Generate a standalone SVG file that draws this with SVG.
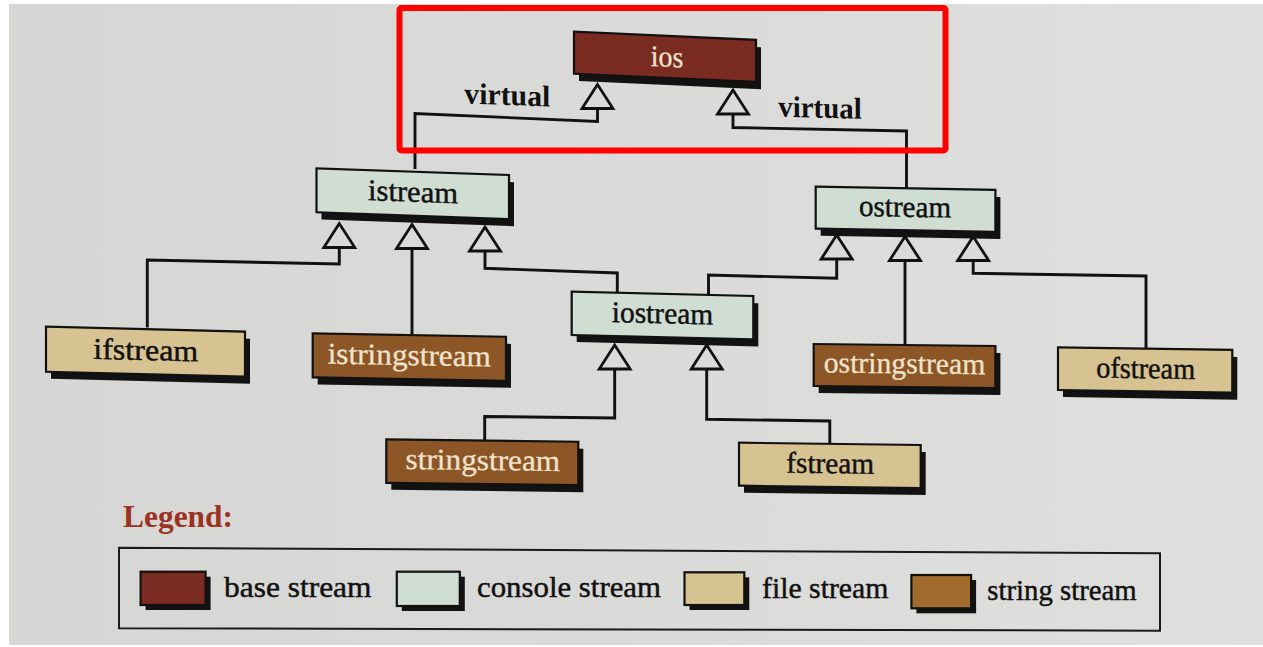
<svg xmlns="http://www.w3.org/2000/svg" width="1263" height="647" viewBox="0 0 1263 647">
  <defs>
    <linearGradient id="paper" x1="0" y1="0" x2="1" y2="0">
      <stop offset="0" stop-color="#d6d6d4"/>
      <stop offset="0.5" stop-color="#dadad8"/>
      <stop offset="1" stop-color="#dfdfdd"/>
    </linearGradient>
    <!-- hollow inheritance triangle, apex at the end of each connector -->
    <marker id="inherit" markerUnits="userSpaceOnUse" markerWidth="60" markerHeight="60"
            viewBox="-30 -30 60 60" refX="0" refY="0" orient="auto" overflow="visible">
      <path d="M0,0 L-24,-15.5 L-24,15.5 Z" fill="#dadad8" stroke="#111" stroke-width="2.8" stroke-linejoin="miter"/>
    </marker>
    <style>
      .lbl  { font-family: "Liberation Serif", "Times New Roman", serif; font-size: 30px; stroke-width: 0.45px; }
      .dark { fill: #111; stroke: #111; }
      .lite { fill: #f0e3cb; stroke: #f0e3cb; stroke-width: 0.3px; }
      .box  { stroke: #111; stroke-width: 2.2; }
      .shd  { fill: #121212; }
      .base    { fill: #7a2b22; }
      .console { fill: #cfddd3; }
      .file    { fill: #d7c291; }
      .string  { fill: #8c5626; }
      .wire { fill: none; stroke: #111; stroke-width: 2.9; stroke-linejoin: miter; marker-end: url(#inherit); }
      .virt { font-family: "Liberation Serif", "Times New Roman", serif; font-size: 30px; font-weight: bold; fill: #111; }
    </style>
  </defs>

  <!-- page -->
  <rect x="0" y="0" width="1263" height="647" fill="#ffffff"/>
  <rect x="9" y="4" width="1254" height="641" fill="url(#paper)"/>

  <!-- connectors -->
  <g id="connectors">
    <path class="wire" d="M415,169 L415,113.5 L597.5,121.5 L597.5,84.5"/>
    <path class="wire" d="M906.5,188 L906.5,131 L733,127.5 L733,90"/>
    <path class="wire" d="M147.3,327.5 L147.3,260 L339.3,264 L339.3,223.5"/>
    <path class="wire" d="M412,334.5 L412,224.5"/>
    <path class="wire" d="M617.3,293 L617.3,273 L485,268.3 L485,227"/>
    <path class="wire" d="M708.5,294 L708.5,275 L836.7,278.3 L836.7,235"/>
    <path class="wire" d="M905,344.5 L905,236.5"/>
    <path class="wire" d="M1146,348 L1146,276 L973.2,273.3 L973.2,236.5"/>
    <path class="wire" d="M484.7,440 L484.7,416.5 L614.7,418 L614.7,345"/>
    <path class="wire" d="M829.8,443.5 L829.8,421 L706.7,419.3 L706.7,345"/>
  </g>

  <text class="virt" transform="translate(464.3,103.5) skewY(2)" x="0" y="0" textLength="86" lengthAdjust="spacingAndGlyphs">virtual</text>
  <text class="virt" transform="translate(778.3,116.6) skewY(1.5)" x="0" y="0" textLength="83.4" lengthAdjust="spacingAndGlyphs">virtual</text>

  <!-- class boxes -->
  <g id="ios" transform="translate(574,31.7) skewY(2.58)">
    <rect class="shd" x="5" y="7" width="182" height="42"/>
    <rect class="box base" x="0" y="0" width="182" height="42"/>
    <text class="lbl lite" x="93" y="30.8" text-anchor="middle" textLength="32.6" lengthAdjust="spacingAndGlyphs">ios</text>
  </g>

  <g id="istream" transform="translate(316.5,168.3) skewY(2.0)">
    <rect class="shd" x="5" y="7" width="192.5" height="44"/>
    <rect class="box console" x="0" y="0" width="192.5" height="44"/>
    <text class="lbl dark" x="96.5" y="30" text-anchor="middle" textLength="90" lengthAdjust="spacingAndGlyphs">istream</text>
  </g>

  <g id="ostream" transform="translate(815.7,186.7) skewY(1.03)">
    <rect class="shd" x="5" y="7" width="179.7" height="42"/>
    <rect class="box console" x="0" y="0" width="179.7" height="42"/>
    <text class="lbl dark" x="89.3" y="28.4" text-anchor="middle" textLength="92" lengthAdjust="spacingAndGlyphs">ostream</text>
  </g>

  <g id="iostream" transform="translate(571.7,291.7) skewY(1.37)">
    <rect class="shd" x="5" y="7" width="181.6" height="43.3"/>
    <rect class="box console" x="0" y="0" width="181.6" height="43.3"/>
    <text class="lbl dark" x="90.8" y="29.4" text-anchor="middle" textLength="101.6" lengthAdjust="spacingAndGlyphs">iostream</text>
  </g>

  <g id="ifstream" transform="translate(46,326.7) skewY(1.43)">
    <rect class="shd" x="5" y="7" width="199" height="45"/>
    <rect class="box file" x="0" y="0" width="199" height="45"/>
    <text class="lbl dark" x="99.8" y="30.8" text-anchor="middle" textLength="105" lengthAdjust="spacingAndGlyphs">ifstream</text>
  </g>

  <g id="istringstream" transform="translate(312.7,333.3) skewY(1.03)">
    <rect class="shd" x="5" y="7" width="193.3" height="44"/>
    <rect class="box string" x="0" y="0" width="193.3" height="44"/>
    <text class="lbl lite" x="96.6" y="30" text-anchor="middle" textLength="163.3" lengthAdjust="spacingAndGlyphs">istringstream</text>
  </g>

  <g id="ostringstream" transform="translate(813.7,344) skewY(0.63)">
    <rect class="shd" x="5" y="7" width="181.7" height="42"/>
    <rect class="box string" x="0" y="0" width="181.7" height="42"/>
    <text class="lbl lite" x="90.8" y="28.3" text-anchor="middle" textLength="161.5" lengthAdjust="spacingAndGlyphs">ostringstream</text>
  </g>

  <g id="ofstream" transform="translate(1058,347.3) skewY(0.86)">
    <rect class="shd" x="5" y="7" width="174.3" height="42.7"/>
    <rect class="box file" x="0" y="0" width="174.3" height="42.7"/>
    <text class="lbl dark" x="87.7" y="29.7" text-anchor="middle" textLength="98.9" lengthAdjust="spacingAndGlyphs">ofstream</text>
  </g>

  <g id="stringstream" transform="translate(386.3,439.3) skewY(0.72)">
    <rect class="shd" x="5" y="7" width="192" height="43.5"/>
    <rect class="box string" x="0" y="0" width="192" height="43.5"/>
    <text class="lbl lite" x="96.6" y="29.5" text-anchor="middle" textLength="154.6" lengthAdjust="spacingAndGlyphs">stringstream</text>
  </g>

  <g id="fstream" transform="translate(739,442.7) skewY(0.73)">
    <rect class="shd" x="5" y="7" width="181.7" height="43"/>
    <rect class="box file" x="0" y="0" width="181.7" height="43"/>
    <text class="lbl dark" x="91.2" y="29.4" text-anchor="middle" textLength="88" lengthAdjust="spacingAndGlyphs">fstream</text>
  </g>

  <!-- legend -->
  <g id="legend">
    <text x="123" y="527" font-family="'Liberation Serif', 'Times New Roman', serif" font-size="31" font-weight="bold" fill="#9b3324" textLength="110" lengthAdjust="spacingAndGlyphs">Legend:</text>
    <path d="M119,547.7 L1160,553.3 L1160,630.7 L119,628.3 Z" fill="none" stroke="#1a1a1a" stroke-width="2"/>

    <rect class="shd" x="145.6" y="576.7" width="65" height="33.3"/>
    <rect class="box base" x="140.6" y="571.7" width="65" height="33.3"/>
    <text class="lbl dark" x="224" y="596.7" textLength="147.5" lengthAdjust="spacingAndGlyphs">base stream</text>

    <rect class="shd" x="401.8" y="576.7" width="63" height="34.3"/>
    <rect class="box console" x="396.8" y="571.7" width="63" height="34.3"/>
    <text class="lbl dark" x="477" y="596.7" textLength="184" lengthAdjust="spacingAndGlyphs">console stream</text>

    <rect class="shd" x="689.5" y="577.3" width="59.8" height="32.7"/>
    <rect class="box file" x="684.5" y="572.3" width="59.8" height="32.7"/>
    <text class="lbl dark" x="762" y="598.3" textLength="126.4" lengthAdjust="spacingAndGlyphs">file stream</text>

    <rect class="shd" x="916.4" y="580" width="59.7" height="33.3"/>
    <rect class="box string" x="911.4" y="575" width="59.7" height="33.3" style="fill:#a26b2e"/>
    <text class="lbl dark" x="987.3" y="600" textLength="149.4" lengthAdjust="spacingAndGlyphs">string stream</text>
  </g>

  <!-- highlight frame around the base class -->
  <rect x="399.5" y="8" width="546" height="142.5" rx="2" fill="none" stroke="#ff0000" stroke-width="6"/>
</svg>
